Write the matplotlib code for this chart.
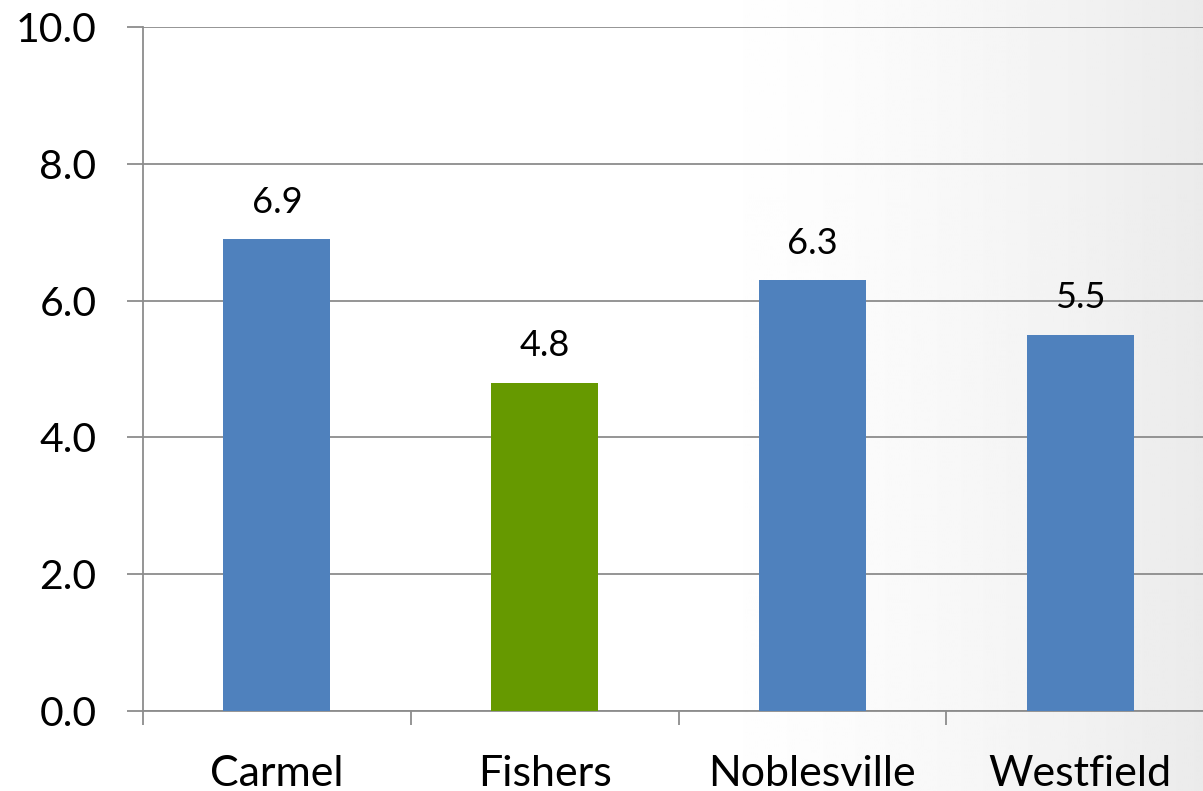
import matplotlib
matplotlib.use("Agg")
import matplotlib.pyplot as plt
import numpy as np

towns = ["Carmel", "Fishers", "Noblesville", "Westfield"]
rates = [6.9, 4.8, 6.3, 5.5]
bar_colors = ["#4f81bd", "#669900", "#4f81bd", "#4f81bd"]
yticks = [0, 2, 4, 6, 8, 10]

plt.rcParams["font.family"] = ["Lato", "DejaVu Sans"]

fig = plt.figure(figsize=(12.03, 7.91), dpi=100)

# soft white-to-grey wash behind the chart
bg = fig.add_axes([0, 0, 1, 1], zorder=-10)
xs = np.linspace(0, 1, 600)
shade = np.clip((xs - 0.55) / 0.45, 0, 1) ** 1.6
row = 1.0 - 0.08 * shade
bg.imshow(np.tile(row, (2, 1)), cmap="gray", vmin=0, vmax=1,
          aspect="auto", extent=[0, 1, 0, 1])
bg.axis("off")

ax = fig.add_axes([143 / 1203, 80 / 791, 1071 / 1203, 684 / 791])
ax.patch.set_alpha(0)

x = np.arange(len(towns))
ax.bar(x, rates, width=0.4, color=bar_colors, zorder=3)
for xi, v in zip(x, rates):
    ax.text(xi, v + 0.3, f"{v:.1f}", ha="center", va="bottom",
            fontsize=26, color="black")

ax.set_xlim(-0.5, 3.5)
ax.set_ylim(0, 10)
ax.set_yticks(yticks)
ax.set_yticklabels([f"{t:.1f}" for t in yticks], fontsize=29.5)
ax.yaxis.grid(True, color="#8c8c8c", linewidth=1.3, zorder=0)
ax.set_axisbelow(True)

ax.set_xticks(x)
ax.set_xticklabels(towns, fontsize=31)
ax.set_xticks(np.arange(-0.5, 4, 1), minor=True)
ax.tick_params(axis="x", which="major", length=0, pad=32)
ax.tick_params(axis="x", which="minor", length=10, width=1.3,
               color="#8c8c8c")
ax.tick_params(axis="y", length=11.5, width=1.3, color="#8c8c8c", pad=22)

for side in ["top", "right"]:
    ax.spines[side].set_visible(False)
for side in ["left", "bottom"]:
    ax.spines[side].set_color("#8c8c8c")
    ax.spines[side].set_linewidth(1.3)

fig.savefig("out.png", dpi=100)
